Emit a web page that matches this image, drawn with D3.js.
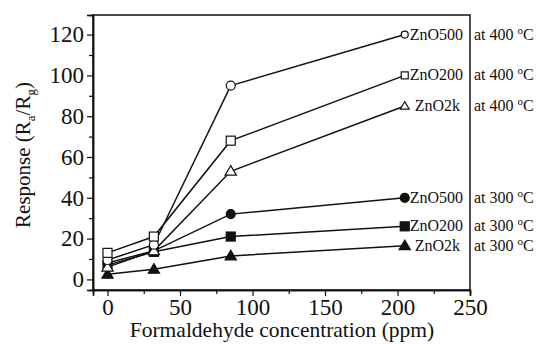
<!DOCTYPE html>
<html>
<head>
<meta charset="utf-8">
<script src="https://cdn.jsdelivr.net/npm/d3@7"></script>
<style>
  body { margin: 0; background: #fff; }
</style>
</head>
<body>
<div id="chart"></div>
<script>
// formaldehyde concentration (ppm)
var conc = [0, 32, 85, 205];

// response values
var zno500_400 = [9.5, 17, 95, 120];
var zno200_400 = [13, 21, 68, 100];
var zno2k_400 = [6, 14, 53, 85];
var zno500_300 = [8, 14, 32, 40];
var zno200_300 = [7, 13.5, 21, 26];
var zno2k_300 = [2.5, 5, 11.5, 16.5];

var sampleNames = ["ZnO500", "ZnO200", "ZnO2k", "ZnO500", "ZnO200", "ZnO2k"];
var tempLabels = ["400", "400", "400", "300", "300", "300"];
var shapes = ["circle", "square", "triangle", "circle", "square", "triangle"];
var filled = [false, false, false, true, true, true];
var seriesValues = [zno500_400, zno200_400, zno2k_400, zno500_300, zno200_300, zno2k_300];

var xTicks = [0, 50, 100, 150, 200, 250];
var yTicks = [0, 20, 40, 60, 80, 100, 120];

var width = 539, height = 344;
var margin = {left: 93, right: 69, top: 15, bottom: 54};
var serif = "'Times New Roman', Times, serif";

var svg = d3.select("#chart").append("svg")
  .attr("width", width)
  .attr("height", height);

var x = d3.scaleLinear().domain([-10, 250]).range([margin.left, width - margin.right]);
var y = d3.scaleLinear().domain([-5.2, 129.6]).range([height - margin.bottom, margin.top]);

// frame
svg.append("rect")
  .attr("x", margin.left).attr("y", margin.top)
  .attr("width", width - margin.left - margin.right)
  .attr("height", height - margin.top - margin.bottom)
  .attr("fill", "none").attr("stroke", "#111").attr("stroke-width", 1.5);

// x axis
svg.append("g")
  .attr("transform", "translate(0," + (height - margin.bottom) + ")")
  .call(d3.axisBottom(x).tickValues(xTicks).tickSize(6).tickPadding(3));
svg.append("g")
  .attr("transform", "translate(0," + (height - margin.bottom) + ")")
  .call(d3.axisBottom(x).tickValues(d3.range(25, 250, 50)).tickSize(4).tickFormat(""));

// y axis
svg.append("g")
  .attr("transform", "translate(" + margin.left + ",0)")
  .call(d3.axisLeft(y).tickValues(yTicks).tickSize(6).tickPadding(3));
svg.append("g")
  .attr("transform", "translate(" + margin.left + ",0)")
  .call(d3.axisLeft(y).tickValues(d3.range(10, 130, 20)).tickSize(4).tickFormat(""));

svg.selectAll(".domain").attr("stroke", "#111").attr("stroke-width", 1.5);
svg.selectAll(".tick line").attr("stroke", "#111").attr("stroke-width", 1.2);
svg.selectAll(".tick text").attr("fill", "#111")
  .style("font-family", serif).style("font-size", "23px");

// axis titles
svg.append("text")
  .attr("x", 282)
  .attr("y", 337)
  .attr("text-anchor", "middle")
  .attr("fill", "#111")
  .style("font-family", serif).style("font-size", "21.5px")
  .text("Formaldehyde concentration (ppm)");

var yTitle = svg.append("text")
  .attr("transform", "translate(30,155) rotate(-90)")
  .attr("text-anchor", "middle")
  .attr("fill", "#111")
  .style("font-family", serif).style("font-size", "21px");
yTitle.append("tspan").text("Response (R");
yTitle.append("tspan").attr("dy", 5).style("font-size", "13px").text("a");
yTitle.append("tspan").attr("dy", -5).text("/R");
yTitle.append("tspan").attr("dy", 5).style("font-size", "13px").text("g");
yTitle.append("tspan").attr("dy", -5).text(")");

var line = d3.line()
  .x(function(d, i) { return x(conc[i]); })
  .y(function(d) { return y(d); });

function marker(g, shape, cx, cy, r, fill) {
  var m;
  if (shape == "circle") {
    m = g.append("circle").attr("cx", cx).attr("cy", cy).attr("r", r);
  } else if (shape == "square") {
    m = g.append("rect").attr("x", cx - r).attr("y", cy - r).attr("width", 2 * r).attr("height", 2 * r);
  } else {
    var s = r * 1.25;
    m = g.append("path").attr("d", "M" + cx + "," + (cy - s) + "L" + (cx + s) + "," + (cy + s * 0.7) + "L" + (cx - s) + "," + (cy + s * 0.7) + "Z");
  }
  m.attr("fill", fill ? "#111" : "#fff").attr("stroke", "#111").attr("stroke-width", 1.2);
}

// lines
seriesValues.forEach(function(vals) {
  svg.append("path")
    .datum(vals)
    .attr("d", line)
    .attr("fill", "none")
    .attr("stroke", "#111")
    .attr("stroke-width", 1.5);
});

// markers, filled series first so the open ones sit on top
var order = [5, 4, 3, 2, 0, 1];
order.forEach(function(k) {
  var vals = seriesValues[k];
  var g = svg.append("g");
  vals.forEach(function(v, i) {
    var last = i == vals.length - 1;
    var r = last && !filled[k] ? 3.5 : 4.5;
    marker(g, shapes[k], x(conc[i]), y(v), r, filled[k]);
  });
});

// end labels
seriesValues.forEach(function(vals, k) {
  var yy = y(vals[vals.length - 1]) + 5;
  var name = sampleNames[k];
  svg.append("text")
    .attr("x", x(conc[conc.length - 1]) + (name == "ZnO2k" ? 10 : 5))
    .attr("y", yy)
    .attr("fill", "#111")
    .style("font-family", serif).style("font-size", "16px")
    .text(name);
  var t = svg.append("text")
    .attr("x", 474)
    .attr("y", yy)
    .attr("fill", "#111")
    .style("font-family", serif).style("font-size", "16px");
  t.append("tspan").text("at " + tempLabels[k] + " ");
  t.append("tspan").attr("dy", -6).style("font-size", "11px").text("o");
  t.append("tspan").attr("dy", 6).text("C");
});
</script>
</body>
</html>
